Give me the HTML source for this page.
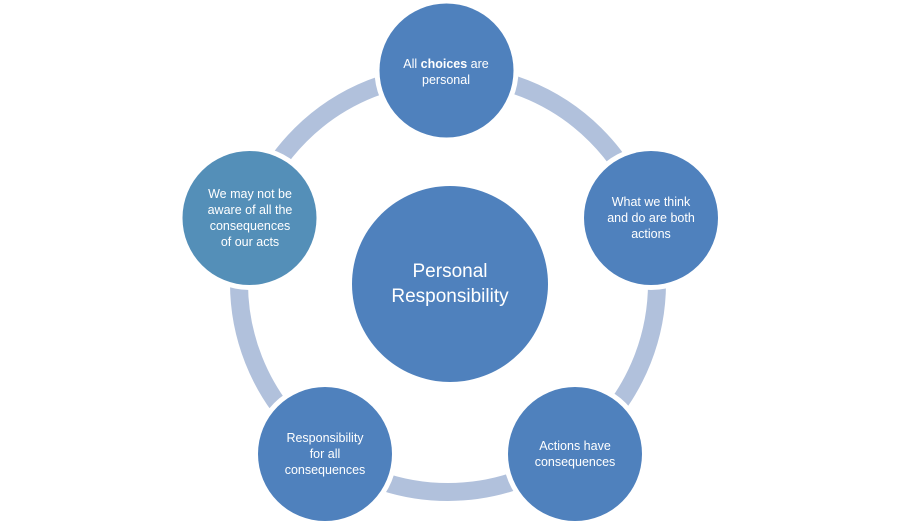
<!DOCTYPE html>
<html><head><style>
body{margin:0;width:900px;height:527px;background:#fff;overflow:hidden;font-family:"Liberation Sans",sans-serif}
</style></head><body>
<svg width="900" height="527" xmlns="http://www.w3.org/2000/svg">
<circle cx="448" cy="283" r="209" fill="none" stroke="#b1c1dc" stroke-width="18"/>
<circle cx="450" cy="284" r="98" fill="#4f81bd"/>
<g fill="#fff">
<circle cx="446.5" cy="70.5" r="72"/>
<circle cx="651" cy="218" r="72"/>
<circle cx="575" cy="454" r="72"/>
<circle cx="325" cy="454" r="72"/>
<circle cx="249.5" cy="218" r="72"/>
</g>
<g>
<circle cx="446.5" cy="70.5" r="67" fill="#4f81bd"/>
<circle cx="651" cy="218" r="67" fill="#4f81bd"/>
<circle cx="575" cy="454" r="67" fill="#4f81bd"/>
<circle cx="325" cy="454" r="67" fill="#4f81bd"/>
<circle cx="249.5" cy="218" r="67" fill="#548fb8"/>
</g>
<g fill="#fff" font-family="Liberation Sans, sans-serif" font-size="12.5" text-anchor="middle">
<text x="446" y="68">All <tspan font-weight="bold">choices</tspan> are</text>
<text x="446" y="84">personal</text>
<text x="651" y="206">What we think</text>
<text x="651" y="222">and do are both</text>
<text x="651" y="238">actions</text>
<text x="575" y="450">Actions have</text>
<text x="575" y="466">consequences</text>
<text x="325" y="442">Responsibility</text>
<text x="325" y="458">for all</text>
<text x="325" y="474">consequences</text>
<text x="250" y="198">We may not be</text>
<text x="250" y="214">aware of all the</text>
<text x="250" y="230">consequences</text>
<text x="250" y="246">of our acts</text>
<text x="450" y="277" font-size="19">Personal</text>
<text x="450" y="302" font-size="19">Responsibility</text>
</g>
</svg>
</body></html>
